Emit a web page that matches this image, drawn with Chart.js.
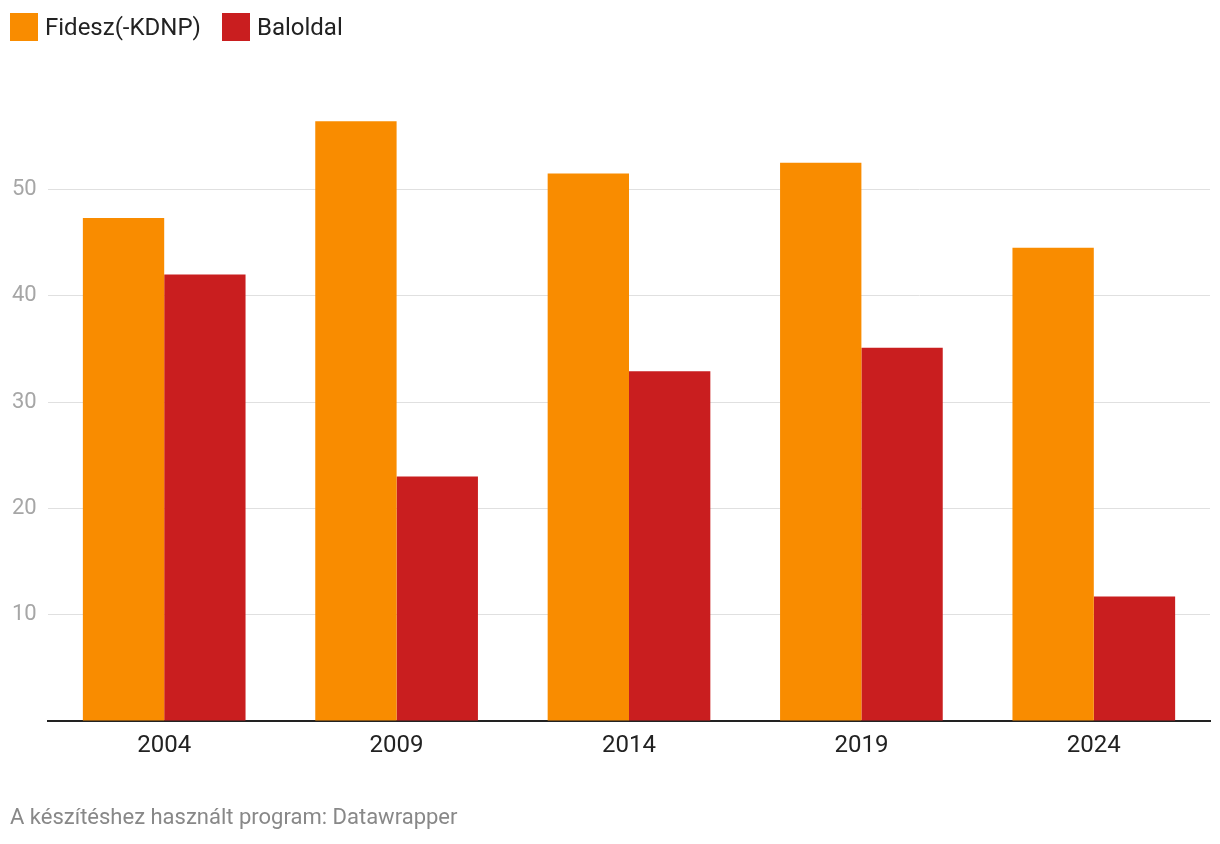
<!DOCTYPE html>
<html>
<head>
<meta charset="utf-8">
<script src="https://cdn.jsdelivr.net/npm/chart.js@4"></script>
<style>
  html, body { margin: 0; padding: 0; background: #fff; }
  body { width: 1220px; height: 844px; position: relative; overflow: hidden; font-family: Roboto, sans-serif; }
  #wrap { position: absolute; left: 0; top: 0; width: 1220px; height: 844px; }
  .legend { position: absolute; top: 13px; left: 10px; display: flex; align-items: center; font-size: 24px; color: #222; }
  .legend .item { display: flex; align-items: center; margin-right: 21px; }
  .legend .sw { width: 28px; height: 28px; margin-right: 7px; }
  .footer { position: absolute; left: 10px; top: 804px; font-size: 22px; color: #888; }
</style>
</head>
<body>
<div id="wrap"><canvas id="myChart" width="1220" height="844"></canvas></div>
<div class="legend" id="legend"></div>
<div class="footer">A készítéshez használt program: Datawrapper</div>
<script>
  // adatok
  const years = ['2004', '2009', '2014', '2019', '2024'];
  const fidesz = [47.3, 56.4, 51.5, 52.5, 44.5];
  const baloldal = [42.0, 23.0, 32.9, 35.1, 11.7];
  const seriesNames = ['Fidesz(-KDNP)', 'Baloldal'];
  const seriesColors = ['#f98c00', '#c91e1f'];
  const yTicks = [10, 20, 30, 40, 50];

  // jelmagyarázat
  const legend = document.getElementById('legend');
  seriesNames.forEach((name, i) => {
    const item = document.createElement('div');
    item.className = 'item';
    item.innerHTML = '<span class="sw" style="background:' + seriesColors[i] + '"></span>' + name;
    legend.appendChild(item);
  });

  const data = {
    labels: years,
    datasets: [
      { label: seriesNames[0], data: fidesz, backgroundColor: seriesColors[0] },
      { label: seriesNames[1], data: baloldal, backgroundColor: seriesColors[1] }
    ]
  };

  const config = {
    type: 'bar',
    data: data,
    options: {
      responsive: false,
      animation: false,
      layout: { padding: { top: 83, left: 12, right: 10, bottom: 73 } },
      datasets: { bar: { categoryPercentage: 0.7, barPercentage: 1.0 } },
      plugins: {
        legend: { display: false },
        tooltip: { enabled: false }
      },
      scales: {
        x: {
          grid: { display: false, drawTicks: false },
          border: { display: true, color: '#222', width: 2 },
          ticks: { color: '#222', font: { family: 'Roboto', size: 24 }, padding: 11 },
          afterFit: (axis) => { axis.height = 50; }
        },
        y: {
          min: 0,
          max: 60,
          border: { display: false },
          grid: {
            drawTicks: false,
            color: ctx => yTicks.includes(ctx.tick.value) ? '#e0e0e0' : 'rgba(0,0,0,0)',
            lineWidth: 1
          },
          ticks: {
            stepSize: 10,
            color: '#a6a6a6',
            padding: 0,
            crossAlign: 'far',
            font: { family: 'Roboto', size: 22 },
            callback: v => yTicks.includes(v) ? String(v) : ''
          },
          afterFit: (axis) => { axis.width = 36; }
        }
      }
    }
  };

  const ctx = document.getElementById('myChart').getContext('2d');
  new Chart(ctx, config);
</script>
</body>
</html>
